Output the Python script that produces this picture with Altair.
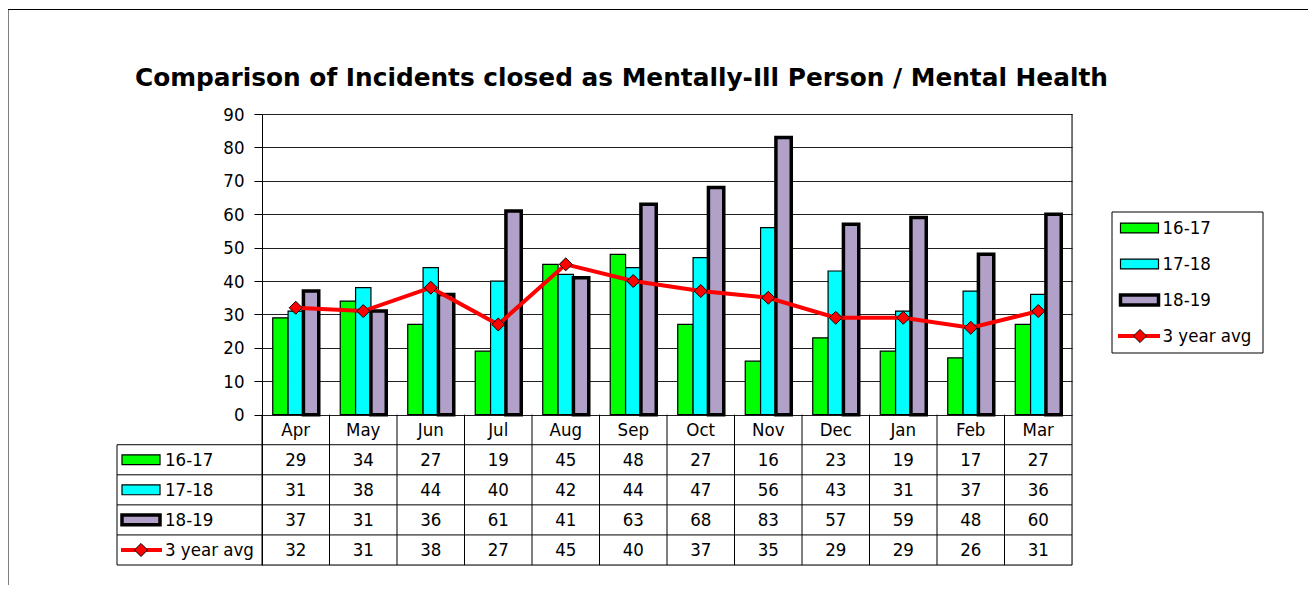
import altair as alt
import pandas as pd

# ---------------- data ----------------
months = ["Apr", "May", "Jun", "Jul", "Aug", "Sep", "Oct", "Nov", "Dec", "Jan", "Feb", "Mar"]
series_names = ["16-17", "17-18", "18-19", "3 year avg"]
v1617 = [29, 34, 27, 19, 45, 48, 27, 16, 23, 19, 17, 27]
v1718 = [31, 38, 44, 40, 42, 44, 47, 56, 43, 31, 37, 36]
v1819 = [37, 31, 36, 61, 41, 63, 68, 83, 57, 59, 48, 60]
avg3 = [32, 31, 38, 27, 45, 40, 37, 35, 29, 29, 26, 31]
y_ticks = [0, 10, 20, 30, 40, 50, 60, 70, 80, 90]
title_text = "Comparison of Incidents closed as Mentally-Ill Person / Mental Health"

# ---------------- style ----------------
bar_series = series_names[:3]
bar_colors = ["#00FF00", "#00FFFF", "#B1A0C7"]
RED = "#FF0000"
FONT = "Tahoma, 'DejaVu Sans Condensed', 'DejaVu Sans', sans-serif"
TFONT = "Tahoma, 'DejaVu Sans', sans-serif"
FS = 18.5

W, H = 810, 451
Y_MIN, Y_MAX = -45, 90
ROW = 9  # data units per table row
RECT_SHAPE = "M-1,-0.26L1,-0.26L1,0.26L-1,0.26Z"
thick = alt.condition(alt.datum.series == "18-19", alt.value(3.5), alt.value(1.2))

# ---------------- tables ----------------
all_vals = [v1617, v1718, v1819, avg3]
bars_df = pd.DataFrame(
    [{"month": m, "series": s, "value": v}
     for s, vals in zip(bar_series, all_vals[:3]) for m, v in zip(months, vals)]
)
avg_df = pd.DataFrame({"month": months, "value": avg3})
table_df = pd.DataFrame(
    [{"month": m, "series": s, "value": v, "y": -(r + 1.5) * ROW}
     for r, (s, vals) in enumerate(zip(series_names, all_vals)) for m, v in zip(months, vals)]
)
month_df = pd.DataFrame({"month": months, "y": [-0.5 * ROW] * len(months)})
leg_df = pd.DataFrame({"series": series_names,
                       "y": [-(r + 1.5) * ROW for r in range(len(series_names))]})
hline_df = pd.DataFrame({"y": [-ROW * k for k in range(1, 6)]})
one_df = pd.DataFrame({"a": [0]})

xscale = alt.Scale(domain=months, paddingInner=0, paddingOuter=0)
yscale = alt.Scale(domain=[Y_MIN, Y_MAX], nice=False, zero=False)
X = alt.X("month:N", scale=xscale, axis=None)
yaxis = alt.Axis(values=y_ticks, grid=True, gridColor="#202020", gridWidth=1, gridOpacity=1,
                 domainColor="black", domainWidth=1, tickColor="black", tickSize=8,
                 labelFont=FONT, labelFontSize=FS, labelColor="black", labelPadding=10,
                 title=None)


def Yq(field):
    return alt.Y(field, scale=yscale, axis=yaxis)


bars = alt.Chart(bars_df).mark_bar(stroke="black").encode(
    x=X,
    xOffset=alt.XOffset("series:N", scale=alt.Scale(domain=bar_series, paddingInner=0, paddingOuter=0.7)),
    y=Yq("value:Q"),
    color=alt.Color("series:N", scale=alt.Scale(domain=bar_series, range=bar_colors), legend=None),
    strokeWidth=thick,
)

line = alt.Chart(avg_df).mark_line(color=RED, strokeWidth=4).encode(x=X, y=Yq("value:Q"))
pts = alt.Chart(avg_df).mark_point(shape="diamond", filled=True, fill=RED, stroke="black",
                                   strokeWidth=1, size=170, opacity=1).encode(x=X, y=Yq("value:Q"))

# table grid
vsep = alt.Chart(month_df).mark_rule(color="black", strokeWidth=1).encode(
    x=alt.X("month:N", scale=xscale, axis=None, bandPosition=0),
    y=alt.YDatum(0, scale=yscale, axis=yaxis), y2=alt.Y2Datum(Y_MIN))
right_border = alt.Chart(one_df).mark_rule(color="black", strokeWidth=1).encode(
    x=alt.value(W), y=alt.YDatum(Y_MAX, scale=yscale, axis=yaxis), y2=alt.Y2Datum(Y_MIN))
hlines = alt.Chart(hline_df).mark_rule(color="black", strokeWidth=1).encode(
    y=Yq("y:Q"), x=alt.value(-145), x2=alt.value(W))
left_col = alt.Chart(one_df).mark_rule(color="black", strokeWidth=1).encode(
    x=alt.value(-145), y=alt.YDatum(-ROW, scale=yscale, axis=yaxis), y2=alt.Y2Datum(Y_MIN))

cells = alt.Chart(table_df).mark_text(font=FONT, fontSize=FS, color="black", baseline="middle").encode(
    x=X, y=Yq("y:Q"), text="value:Q")
mlabels = alt.Chart(month_df).mark_text(font=FONT, fontSize=FS, color="black", baseline="middle").encode(
    x=X, y=Yq("y:Q"), text="month:N")

# legend column of table
tleg_sym = alt.Chart(leg_df[leg_df.series.isin(bar_series)]).mark_point(
    shape=RECT_SHAPE, filled=True, stroke="black", size=1444, opacity=1).encode(
    x=alt.value(-121), y=Yq("y:Q"),
    color=alt.Color("series:N", scale=alt.Scale(domain=bar_series, range=bar_colors), legend=None),
    strokeWidth=thick)
tleg_line = alt.Chart(leg_df[leg_df.series == "3 year avg"]).mark_rule(color=RED, strokeWidth=4).encode(
    x=alt.value(-141), x2=alt.value(-100), y=Yq("y:Q"))
tleg_dia = alt.Chart(leg_df[leg_df.series == "3 year avg"]).mark_point(
    shape="diamond", filled=True, fill=RED, stroke="black", strokeWidth=1, size=170, opacity=1).encode(
    x=alt.value(-121), y=Yq("y:Q"))
tleg_txt = alt.Chart(leg_df).mark_text(font=FONT, fontSize=FS, color="black", align="left",
                                       baseline="middle").encode(
    x=alt.value(-97), y=Yq("y:Q"), text="series:N")

# frame and title
frame = alt.Chart(one_df).mark_rect(fillOpacity=0, stroke="black", strokeWidth=1).encode(
    x=alt.value(-254), x2=alt.value(1047), y=alt.value(-104.5), y2=alt.value(520))
frame_r = alt.Chart(one_df).mark_rule(color="#808080", strokeWidth=2).encode(
    x=alt.value(1048), y=alt.value(-104), y2=alt.value(520))
title = alt.Chart(one_df).mark_text(text=title_text, font=TFONT, fontSize=24.8, fontWeight="bold",
                                    color="black", align="left", baseline="alphabetic").encode(
    x=alt.value(-127), y=alt.value(-28))

main = alt.layer(frame, frame_r, title, bars, vsep, right_border, hlines, left_col,
                 line, pts, cells, mlabels, tleg_sym, tleg_line, tleg_dia, tleg_txt)

# right-hand legend (own y scale; rows step 36px starting at 114px)
LY = alt.Scale(domain=series_names, range=[96, 240], padding=0)
rleg_box = alt.Chart(one_df).mark_rect(fill="white", stroke="black", strokeWidth=1).encode(
    x=alt.value(850), x2=alt.value(1001), y=alt.value(98), y2=alt.value(239))
rleg_sym = alt.Chart(leg_df[leg_df.series.isin(bar_series)]).mark_point(
    shape=RECT_SHAPE, filled=True, stroke="black", size=1444, opacity=1).encode(
    x=alt.value(877.5), y=alt.Y("series:N", scale=LY, axis=None),
    color=alt.Color("series:N", scale=alt.Scale(domain=bar_series, range=bar_colors), legend=None),
    strokeWidth=thick)
rleg_line = alt.Chart(leg_df[leg_df.series == "3 year avg"]).mark_rule(color=RED, strokeWidth=4).encode(
    x=alt.value(856), x2=alt.value(898), y=alt.Y("series:N", scale=LY, axis=None))
rleg_dia = alt.Chart(leg_df[leg_df.series == "3 year avg"]).mark_point(
    shape="diamond", filled=True, fill=RED, stroke="black", strokeWidth=1, size=170, opacity=1).encode(
    x=alt.value(878), y=alt.Y("series:N", scale=LY, axis=None))
rleg_txt = alt.Chart(leg_df).mark_text(font=FONT, fontSize=FS, color="black", align="left",
                                       baseline="middle").encode(
    x=alt.value(900.5), y=alt.Y("series:N", scale=LY, axis=None), text="series:N")
rlegend = alt.layer(rleg_box, rleg_sym, rleg_line, rleg_dia, rleg_txt)

chart = alt.layer(main, rlegend).resolve_scale(y="independent").properties(
    width=W, height=H,
    padding={"left": 254, "top": 106, "right": 236, "bottom": 20},
    autosize=alt.AutoSizeParams(type="none"),
).configure_view(stroke=None).configure(background="white")

chart.save("out.html", embed_options={"renderer": "svg", "actions": False})
